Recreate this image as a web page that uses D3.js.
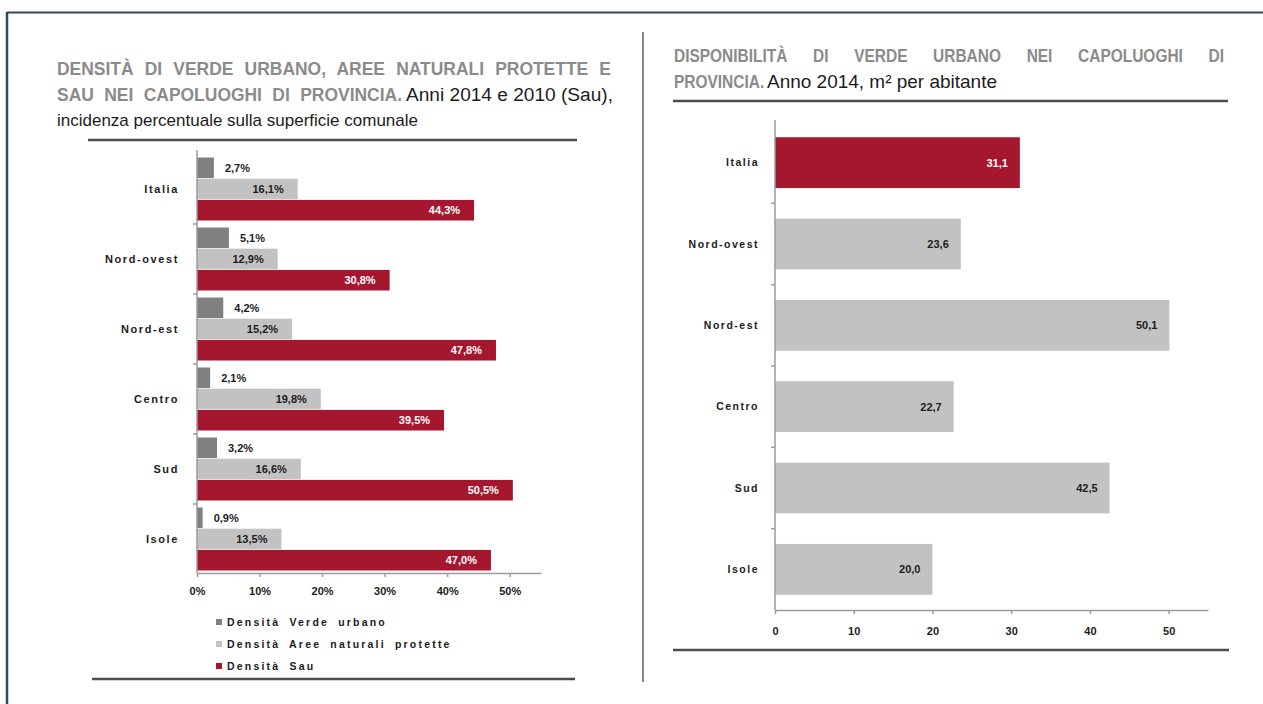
<!DOCTYPE html>
<html lang="it">
<head>
<meta charset="utf-8">
<title>Verde urbano nei capoluoghi di provincia</title>
<script src="https://cdn.jsdelivr.net/npm/d3@7"></script>
<style>
  html, body { margin: 0; padding: 0; background: #ffffff; }
  svg { display: block; }
</style>
</head>
<body>
<svg id="chart" width="1263" height="704"></svg>
<script>
// Ripartizioni territoriali
const regions = ["Italia", "Nord-ovest", "Nord-est", "Centro", "Sud", "Isole"];

// Densità sulla superficie comunale (%), anni 2014 e 2010 (Sau)
const verdeUrbano   = [2.7, 5.1, 4.2, 2.1, 3.2, 0.9];
const areeProtette  = [16.1, 12.9, 15.2, 19.8, 16.6, 13.5];
const sau           = [44.3, 30.8, 47.8, 39.5, 50.5, 47.0];

// Disponibilità di verde urbano, anno 2014, m² per abitante
const verdePerAbitante = [31.1, 23.6, 50.1, 22.7, 42.5, 20.0];

// Legenda e assi
const seriesNames = ["Densità Verde urbano", "Densità Aree naturali protette", "Densità Sau"];
const pctTicks = [0, 10, 20, 30, 40, 50];
const m2Ticks  = [0, 10, 20, 30, 40, 50];

const RED = "#a5172f", LIGHT = "#c2c2c2", DARK = "#808080";
const AXIS = "#9b9b9b", TITLE_GREY = "#8b8b8b", INK = "#1c1c1c";
const SANS = "'Liberation Sans',Arial,sans-serif";

const it = d3.formatLocale({ decimal: ",", thousands: ".", grouping: [3], currency: ["€", ""] });
const fmt1 = it.format(".1f");

const svg = d3.select("#chart");

// cornice della pagina
svg.append("line").attr("x1", 7).attr("x2", 1263).attr("y1", 12.5).attr("y2", 12.5)
  .attr("stroke", "#2e4858").attr("stroke-width", 2);
svg.append("line").attr("x1", 7).attr("x2", 7).attr("y1", 12).attr("y2", 704)
  .attr("stroke", "#2e4858").attr("stroke-width", 2.5);

// divisorio centrale
svg.append("line").attr("x1", 643).attr("x2", 643).attr("y1", 32).attr("y2", 682)
  .attr("stroke", "#8a8a8a").attr("stroke-width", 2);

function rule(x1, x2, y) {
  svg.append("line").attr("x1", x1).attr("x2", x2).attr("y1", y).attr("y2", y)
    .attr("stroke", "#4d4d4d").attr("stroke-width", 2.5);
}

// titolo maiuscolo grigio, giustificato allargando gli spazi tra le parole
function capsText(x, y, str, width, sx) {
  const t = svg.append("text")
    .attr("transform", `translate(${x},${y}) scale(${sx},1)`)
    .attr("font-family", SANS).attr("font-weight", "bold").attr("font-size", 18)
    .attr("fill", TITLE_GREY)
    .text(str);
  if (width) {
    const natural = t.node().getComputedTextLength();
    const spaces = (str.match(/ /g) || []).length;
    const target = width / sx;
    if (natural < target && spaces) t.attr("word-spacing", (target - natural) / spaces);
    else t.attr("textLength", target).attr("lengthAdjust", "spacingAndGlyphs");
  }
  return t;
}
function plainText(x, y, str, size, width) {
  const t = svg.append("text").attr("x", x).attr("y", y)
    .attr("font-family", SANS).attr("font-size", size).attr("fill", INK)
    .text(str);
  if (width) t.attr("textLength", width).attr("lengthAdjust", "spacingAndGlyphs");
  return t;
}

/* ---------------- Grafico di sinistra ---------------- */
capsText(57, 75, "DENSITÀ DI VERDE URBANO, AREE NATURALI PROTETTE E", 554, 0.97);
capsText(57, 101, "SAU NEI CAPOLUOGHI DI PROVINCIA.", 345, 0.97);
plainText(406, 101, "Anni 2014 e 2010 (Sau),", 18, 207);
plainText(57, 126, "incidenza percentuale sulla superficie comunale", 17);
rule(88, 577, 140);

const xL = d3.scaleLinear().domain([0, 55]).range([197, 541]);
const yL = d3.scaleBand().domain(regions).range([154, 574]).paddingInner(0.1).paddingOuter(0.05);
const keys = ["verde", "aree", "sau"];
const ySub = d3.scaleBand().domain(keys).range([0, yL.bandwidth()]).paddingInner(0.03);
const colorL = d3.scaleOrdinal().domain(keys).range([DARK, LIGHT, RED]);

const leftRows = regions.map((r, i) => ({
  region: r,
  values: [
    { key: "verde", v: verdeUrbano[i] },
    { key: "aree", v: areeProtette[i] },
    { key: "sau", v: sau[i] }
  ]
}));

const gL = svg.append("g");
const groups = gL.selectAll("g.grp").data(leftRows).join("g")
  .attr("class", "grp")
  .attr("transform", d => `translate(0,${yL(d.region)})`);

groups.selectAll("rect").data(d => d.values).join("rect")
  .attr("x", xL(0))
  .attr("y", d => ySub(d.key))
  .attr("width", d => xL(d.v) - xL(0))
  .attr("height", ySub.bandwidth())
  .attr("fill", d => colorL(d.key));

groups.selectAll("text.val").data(d => d.values).join("text")
  .attr("class", "val")
  .attr("x", d => d.key === "verde" ? xL(d.v) + 11 : xL(d.v) - 14)
  .attr("y", d => ySub(d.key) + ySub.bandwidth() / 2)
  .attr("dy", "0.36em")
  .attr("text-anchor", d => d.key === "verde" ? "start" : "end")
  .attr("font-family", SANS).attr("font-weight", "bold").attr("font-size", 11)
  .attr("fill", d => d.key === "sau" ? "#ffffff" : INK)
  .text(d => fmt1(d.v) + "%");

// categorie
gL.selectAll("text.cat").data(regions).join("text")
  .attr("class", "cat")
  .attr("x", 179)
  .attr("y", d => yL(d) + yL.bandwidth() / 2)
  .attr("dy", "0.36em")
  .attr("text-anchor", "end")
  .attr("font-family", SANS).attr("font-weight", "bold").attr("font-size", 11)
  .attr("letter-spacing", 1.6)
  .attr("fill", INK)
  .text(d => d);

// asse verticale con tacche tra le categorie
function categoryAxis(xPos, band, top, bottom) {
  const g = svg.append("g");
  g.append("line").attr("x1", xPos).attr("x2", xPos).attr("y1", top).attr("y2", bottom)
    .attr("stroke", AXIS).attr("stroke-width", 1.5);
  const bounds = band.domain().slice(1).map(d => band(d) - band.step() * band.paddingInner() / 2);
  g.selectAll("line.tk").data(bounds).join("line").attr("class", "tk")
    .attr("x1", xPos - 4).attr("x2", xPos).attr("y1", d => d).attr("y2", d => d)
    .attr("stroke", AXIS).attr("stroke-width", 1.5);
}
categoryAxis(xL(0), yL, 150, 573);

const axL = svg.append("g").attr("transform", "translate(0,573)")
  .call(d3.axisBottom(xL).tickValues(pctTicks).tickSize(4).tickSizeOuter(0).tickPadding(10)
    .tickFormat(d => d + "%"));
axL.select(".domain").attr("stroke", AXIS).attr("stroke-width", 1.5);
axL.selectAll(".tick line").attr("stroke", AXIS).attr("stroke-width", 1.5);
axL.selectAll(".tick text").attr("font-family", SANS).attr("font-weight", "bold")
  .attr("font-size", 11).attr("fill", INK);

// legenda
const legend = svg.append("g").attr("transform", "translate(216,623)");
const legItems = legend.selectAll("g").data(seriesNames).join("g")
  .attr("transform", (d, i) => `translate(0,${i * 22})`);
legItems.append("rect").attr("x", 0).attr("y", -4).attr("width", 6).attr("height", 6)
  .attr("fill", (d, i) => [DARK, LIGHT, RED][i]);
legItems.append("text").attr("x", 11).attr("y", 0).attr("dy", "0.32em")
  .attr("font-family", SANS).attr("font-weight", "bold").attr("font-size", 10.5)
  .attr("letter-spacing", 2.2).attr("word-spacing", 4)
  .attr("fill", INK)
  .text(d => d);

rule(92, 575, 679);

/* ---------------- Grafico di destra ---------------- */
capsText(674, 62, "DISPONIBILITÀ DI VERDE URBANO NEI CAPOLUOGHI DI", 550, 0.86);
capsText(674, 88, "PROVINCIA.", null, 0.86);
plainText(767, 88, "Anno 2014, m² per abitante", 18.5, 230);
rule(673, 1228, 101);

const xR = d3.scaleLinear().domain([0, 55]).range([775, 1208]);
const yR = d3.scaleBand().domain(regions).range([122, 610]).paddingInner(0.375).paddingOuter(0.1875);

const rightRows = regions.map((r, i) => ({ region: r, v: verdePerAbitante[i] }));
const gR = svg.append("g");

gR.selectAll("rect").data(rightRows).join("rect")
  .attr("x", xR(0))
  .attr("y", d => yR(d.region))
  .attr("width", d => xR(d.v) - xR(0))
  .attr("height", yR.bandwidth())
  .attr("fill", d => d.region === "Italia" ? RED : LIGHT);

gR.selectAll("text.val").data(rightRows).join("text")
  .attr("class", "val")
  .attr("x", d => xR(d.v) - 12)
  .attr("y", d => yR(d.region) + yR.bandwidth() / 2)
  .attr("dy", "0.36em")
  .attr("text-anchor", "end")
  .attr("font-family", SANS).attr("font-weight", "bold").attr("font-size", 11)
  .attr("fill", d => d.region === "Italia" ? "#ffffff" : INK)
  .text(d => fmt1(d.v));

gR.selectAll("text.cat").data(regions).join("text")
  .attr("class", "cat")
  .attr("x", 759)
  .attr("y", d => yR(d) + yR.bandwidth() / 2)
  .attr("dy", "0.36em")
  .attr("text-anchor", "end")
  .attr("font-family", SANS).attr("font-weight", "bold").attr("font-size", 10.5)
  .attr("letter-spacing", 1.5)
  .attr("fill", INK)
  .text(d => d);

categoryAxis(xR(0), yR, 120, 610);

const axR = svg.append("g").attr("transform", "translate(0,610)")
  .call(d3.axisBottom(xR).tickValues(m2Ticks).tickSize(4).tickSizeOuter(0).tickPadding(13)
    .tickFormat(d => d));
axR.select(".domain").attr("stroke", AXIS).attr("stroke-width", 1.5);
axR.selectAll(".tick line").attr("stroke", AXIS).attr("stroke-width", 1.5);
axR.selectAll(".tick text").attr("font-family", SANS).attr("font-weight", "bold")
  .attr("font-size", 11).attr("fill", INK);

rule(673, 1229, 650);
</script>
</body>
</html>
